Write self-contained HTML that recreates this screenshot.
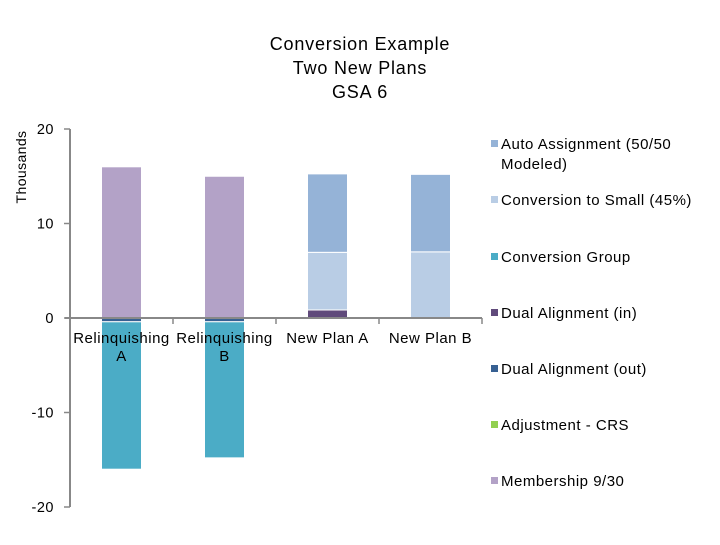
<!DOCTYPE html>
<html><head><meta charset="utf-8"><style>
body{margin:0;background:#fff;font-family:"Liberation Sans",sans-serif;}
svg text{font-family:"Liberation Sans",sans-serif;fill:#000;}
</style></head><body>
<svg id="c" width="720" height="540">
<text x="360" y="50" font-size="18" letter-spacing="0.8" text-anchor="middle"><tspan x="360">Conversion Example</tspan><tspan x="360" dy="24">Two New Plans</tspan><tspan x="360" dy="24">GSA 6</tspan></text>
<text transform="translate(26,167) rotate(-90)" font-size="14" letter-spacing="0.4" text-anchor="middle">Thousands</text>
<g id="bars"></g>
<g id="axes"></g>
<g id="legend"></g>
</svg>
<script>
const categories=["Relinquishing|A","Relinquishing|B","New Plan A","New Plan B"];
const seriesNames=["Auto Assignment (50/50|Modeled)","Conversion to Small (45%)","Conversion Group","Dual Alignment (in)","Dual Alignment (out)","Adjustment - CRS","Membership 9/30"];
const colors=["#95b3d7","#b9cde5","#4bacc6","#604a7b","#376092","#92d050","#b3a2c7"];
const membership=[16,15,0,0];
const dualIn=[0,0,0.85,0];
const convSmall=[0,0,6.1,7];
const autoAssign=[0,0,8.3,8.2];
const dualOut=[-0.4,-0.4,0,0];
const convGroup=[-15.6,-14.4,0,0];
const adjustment=[0,0,0,0];
const yTicks=[20,10,0,-10,-20];
const NS="http://www.w3.org/2000/svg";
const X0=70,X1=482,Y0=318,PX=9.45;
const y=v=>Y0-v*PX;
const cw=(X1-X0)/categories.length;
function mk(t,a,p){const e=document.createElementNS(NS,t);for(const k in a)e.setAttribute(k,a[k]);p.appendChild(e);return e;}
const gb=document.getElementById('bars'),ga=document.getElementById('axes'),gl=document.getElementById('legend');
const posStack=[[membership,6],[dualIn,3],[convSmall,1],[autoAssign,0]];
const negStack=[[dualOut,4],[convGroup,2],[adjustment,5]];
categories.forEach((c,i)=>{
  const bx=X0+cw*i+cw/2-20;
  let acc=0;
  posStack.forEach(([arr,si])=>{const v=arr[i];if(v<=0)return;
    const r=mk('rect',{x:bx,y:y(acc+v),width:40,height:v*PX,fill:colors[si],stroke:'#fff','stroke-width':1},gb);
    acc+=v;});
  acc=0;
  negStack.forEach(([arr,si])=>{const v=arr[i];if(v>=0)return;
    const r=mk('rect',{x:bx,y:y(acc),width:40,height:-v*PX,fill:colors[si],stroke:'#fff','stroke-width':1},gb);
    acc+=v;});
});
mk('line',{x1:X0,y1:y(20),x2:X0,y2:y(-20),stroke:'#888','stroke-width':2},ga);
mk('line',{x1:X0-5,y1:Y0,x2:X1,y2:Y0,stroke:'#888','stroke-width':2},ga);
yTicks.forEach(t=>{
  mk('line',{x1:X0-6,y1:y(t),x2:X0,y2:y(t),stroke:'#888','stroke-width':1.5},ga);
  const tx=mk('text',{x:X0-16,y:y(t)+5,'font-size':14.5,'letter-spacing':0.5,'text-anchor':'end'},ga);tx.textContent=t;
  
});
for(let i=1;i<=categories.length;i++)mk('line',{x1:X0+cw*i,y1:Y0,x2:X0+cw*i,y2:Y0+6,stroke:'#888','stroke-width':1.5},ga);
categories.forEach((c,i)=>{
  const cx=X0+cw*i+cw/2;
  c.split('|').forEach((l,j)=>{const t=mk('text',{x:cx,y:343+j*18,'font-size':15,'letter-spacing':0.5,'text-anchor':'middle'},ga);t.textContent=l;
    });
});
const ly=[149,205,262,318,374,430,486];
seriesNames.forEach((n,i)=>{
  const r=mk('rect',{x:491,y:ly[i]-9,width:7,height:7,fill:colors[i]},gl);
  
  n.split('|').forEach((l,j)=>{const t=mk('text',{x:501,y:ly[i]+j*20,'font-size':15,'letter-spacing':0.5},gl);t.textContent=l;
    });
});
</script>
</body></html>
